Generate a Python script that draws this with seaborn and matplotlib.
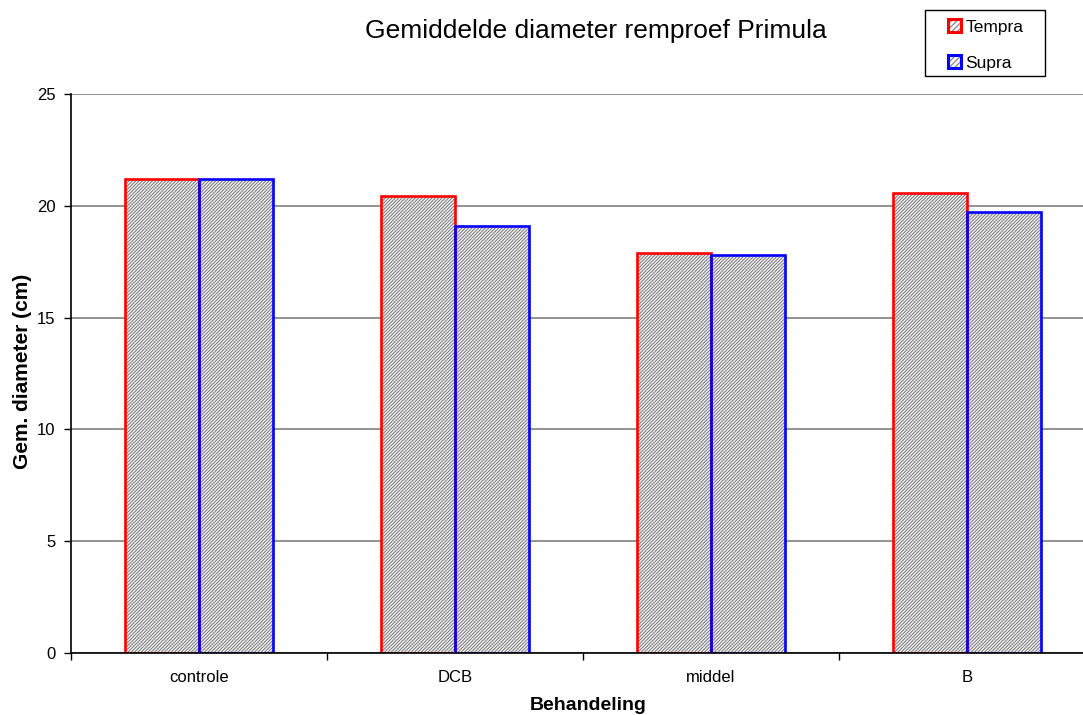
import matplotlib
matplotlib.use("Agg")
import matplotlib.pyplot as plt
import seaborn as sns
import pandas as pd
from matplotlib.patches import Patch, Rectangle

categories = ["controle", "DCB", "middel", "B"]
series_names = ["Tempra", "Supra"]
tempra = [21.18, 20.44, 17.88, 20.56]
supra = [21.21, 19.10, 17.80, 19.74]
y_ticks = [0, 5, 10, 15, 20, 25]

edge_colors = {"Tempra": "#ff0000", "Supra": "#0000ff"}
HATCH = "//////////"
HATCH_COLOR = "#747474"
FACE = "#f4f4f4"

df = pd.DataFrame({
    "Behandeling": categories * 2,
    "serie": ["Tempra"] * 4 + ["Supra"] * 4,
    "waarde": tempra + supra,
})

sns.set_theme(style="white")
plt.rcParams["font.family"] = ["Liberation Sans", "DejaVu Sans"]
plt.rcParams["hatch.linewidth"] = 0.7
for k in ["text.color", "axes.labelcolor", "xtick.color", "ytick.color"]:
    plt.rcParams[k] = "black"

fig = plt.figure(figsize=(10.83, 7.15), dpi=100)
W, H = 1083, 715
ax = fig.add_axes([71 / W, (H - 653) / H, 1024 / W, (653 - 94) / H])

sns.barplot(data=df, x="Behandeling", y="waarde", hue="serie", hue_order=series_names,
            order=categories, palette={"Tempra": "white", "Supra": "white"},
            width=0.575, ax=ax, legend=False, errorbar=None, saturation=1)

for cont, name in zip(ax.containers, series_names):
    for p in cont:
        p.set_facecolor(FACE)
        p.set_edgecolor(HATCH_COLOR)
        p.set_linewidth(0)
        p.set_hatch(HATCH)
        p.set_zorder(3)
        ax.add_patch(Rectangle((p.get_x(), p.get_y()), p.get_width(), p.get_height(),
                               fill=False, edgecolor=edge_colors[name], linewidth=1.9,
                               zorder=4))

ax.set_xlim(-0.5, 3.5)
ax.set_ylim(0, 25)
ax.set_yticks(y_ticks)
ax.set_yticklabels([str(t) for t in y_ticks], fontsize=12)
ax.set_xticks([-0.5, 0.5, 1.5, 2.5, 3.5])
ax.set_xticklabels([])
for i, c in enumerate(categories):
    ax.text(i, -0.75, c, ha="center", va="top", fontsize=12, transform=ax.transData)
ax.tick_params(axis="both", direction="out", length=5, width=1, color="black",
               left=True, bottom=True, pad=6)
ax.grid(axis="y", color="#808080", linewidth=1.2, zorder=0)
ax.set_axisbelow(True)
for s in ["top", "right"]:
    ax.spines[s].set_visible(False)
for s in ["left", "bottom"]:
    ax.spines[s].set_color("black")
    ax.spines[s].set_linewidth(1.2)
    ax.spines[s].set_zorder(5)

ax.set_xlabel("")
ax.set_ylabel("")
fig.text(23 / W, 1 - 371 / H, "Gem. diameter (cm)", ha="center", va="center",
         rotation=90, fontsize=15, fontweight="bold")
fig.text(588 / W, 1 - 705 / H, "Behandeling", ha="center", va="center",
         fontsize=14, fontweight="bold")
fig.text(596 / W, 1 - 31 / H, "Gemiddelde diameter remproef Primula", ha="center",
         va="center", fontsize=19)

handles = []
for n in series_names:
    h1 = Patch(facecolor=FACE, edgecolor=HATCH_COLOR, hatch="//////", linewidth=0)
    h2 = Patch(fill=False, edgecolor=edge_colors[n], linewidth=2.2)
    handles.append((h1, h2))
leg = fig.legend(handles=handles, labels=series_names, loc="center",
                 bbox_to_anchor=(986 / W, 1 - 45 / H), borderaxespad=0,
                 frameon=False, fontsize=12.5, handlelength=0.75,
                 handleheight=0.75, handletextpad=0.25, labelspacing=1.2,
                 borderpad=0)
fig.patches.append(Rectangle((925 / W, 1 - 76 / H), 120 / W, 66 / H,
                             transform=fig.transFigure, fill=False,
                             edgecolor="black", linewidth=1.0))

fig.savefig("out.png", dpi=100)
